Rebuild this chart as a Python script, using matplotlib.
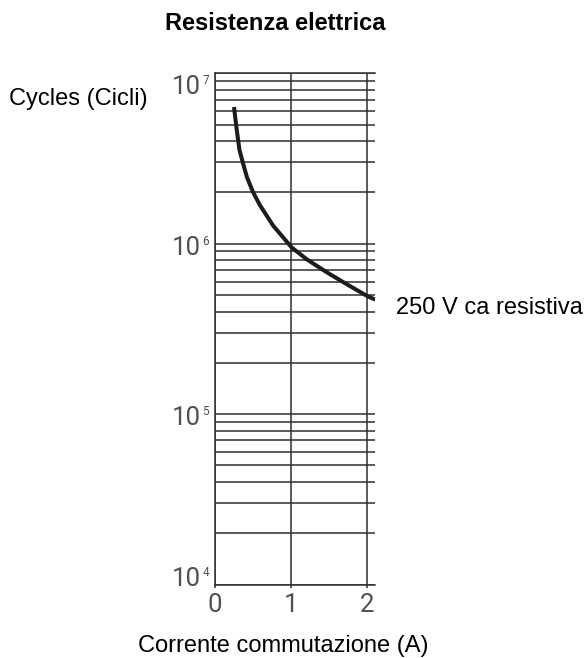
import numpy as np
import matplotlib
matplotlib.use("Agg")
import matplotlib.pyplot as plt
from matplotlib.ticker import LogLocator

# Electrical endurance curve, 250 V AC resistive load
current_a = [0.25, 0.283, 0.322, 0.368, 0.421, 0.5, 0.592, 0.763, 1.009,
             1.21, 1.474, 1.737, 2.013, 2.11]
cycles = [6.34e6, 4.77e6, 3.55e6, 2.97e6, 2.45e6, 2.01e6, 1.68e6, 1.28e6, 9.5e5,
          8.08e5, 6.78e5, 5.77e5, 4.9e5, 4.7e5]

decades = [4, 5, 6, 7]
x_ticks = [0, 1, 2]
x_tick_labels = ["0", "1", "2"]

title = "Resistenza elettrica"
y_title = "Cycles (Cicli)"
x_title = "Corrente commutazione (A)"
curve_label = "250 V ca resistiva"

plt.rcParams["font.family"] = ["Liberation Sans", "DejaVu Sans"]
tick_font = ["Roboto", "DejaVu Sans"]
tick_color = "#505050"
grid_color = "#2e2e2e"
grid_lw = 1.1

W, H = 588, 658
fig = plt.figure(figsize=(W / 100, H / 100), dpi=100)
ax = fig.add_axes([215 / W, 1 - 584.5 / H, 160 / W, (584.5 - 73.3) / H])

ax.set_yscale("log")
ax.set_xlim(0, 2.105)
ax.set_ylim(1e4, 1e7)
ax.yaxis.set_major_locator(LogLocator(base=10, numticks=10))
ax.yaxis.set_minor_locator(LogLocator(base=10, subs=np.arange(2, 10), numticks=30))

ax.grid(axis="y", which="both", color=grid_color, lw=grid_lw)
ax.grid(axis="x", which="major", color=grid_color, lw=grid_lw)
ax.set_axisbelow(True)

ax.spines["right"].set_visible(False)
for side in ["left", "bottom", "top"]:
    ax.spines[side].set_color(grid_color)
    ax.spines[side].set_linewidth(grid_lw)

ax.tick_params(axis="y", which="both", length=0, labelleft=False)
ax.set_xticks(x_ticks, x_tick_labels)
ax.tick_params(axis="x", which="major", length=2.2, width=grid_lw, color=grid_color,
               labelsize=18.5, labelcolor=tick_color, pad=4)
for lbl in ax.get_xticklabels():
    lbl.set_fontfamily(tick_font)

# decade labels drawn as "10" plus a small raised exponent
label_nudge = [18, 8, 8, -2]
for k, dy in zip(decades, label_nudge):
    ax.annotate("10", xy=(0, 10.0 ** k), xycoords="data", xytext=(-14, dy),
                textcoords="offset pixels", ha="right", va="top", fontsize=18.5,
                color=tick_color, family=tick_font, annotation_clip=False)
    ax.annotate(str(k), xy=(0, 10.0 ** k), xycoords="data", xytext=(-6, dy + 1),
                textcoords="offset pixels", ha="right", va="top", fontsize=8.5,
                color=tick_color, family=tick_font, annotation_clip=False)

ax.plot(current_a, cycles, color="#1c1c1c", lw=2.9, solid_capstyle="butt",
        solid_joinstyle="round", zorder=3)

ax.annotate(curve_label, xy=(current_a[-1], cycles[-1]), xycoords="data",
            xytext=(21, -14), textcoords="offset pixels", ha="left", va="baseline",
            fontsize=17, color="black", annotation_clip=False)

fig.text(275 / W, 1 - 24 / H, title, ha="center", va="center", fontsize=17, fontweight="bold")
fig.text(9 / W, 1 - 105 / H, y_title, ha="left", va="baseline", fontsize=17)
fig.text(283.5 / W, 1 - 652 / H, x_title, ha="center", va="baseline", fontsize=17)

fig.savefig("out.png", dpi=100)
